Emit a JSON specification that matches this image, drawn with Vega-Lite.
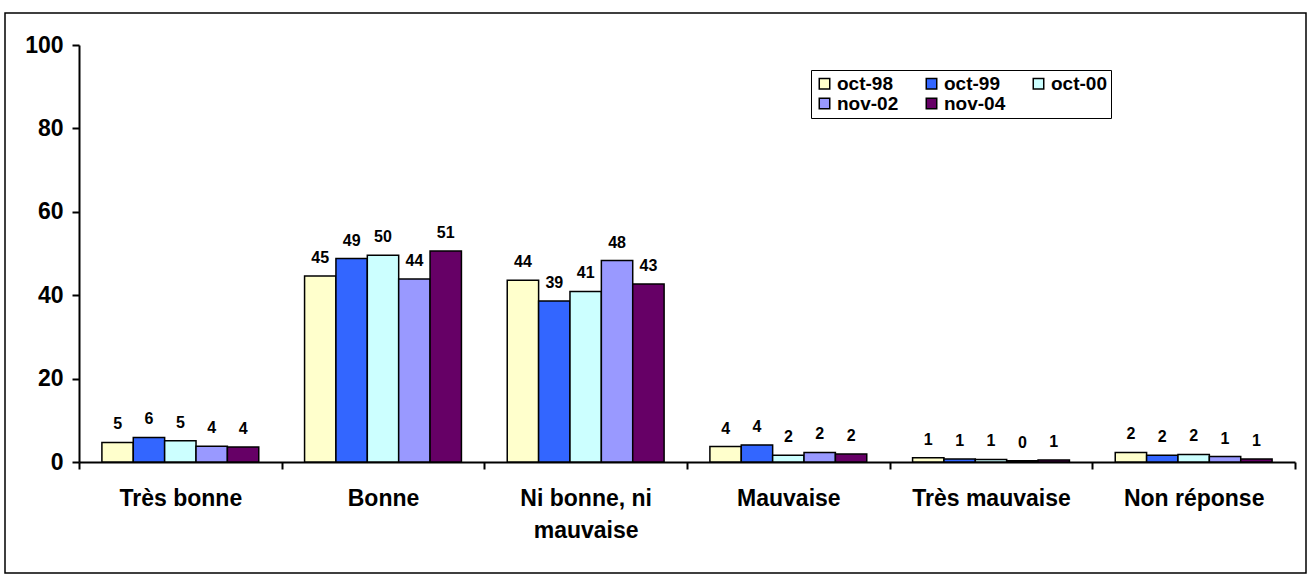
{
  "$schema": "https://vega.github.io/schema/vega-lite/v6.json",
  "width": 1301,
  "height": 560,
  "autosize": {"type": "none"},
  "padding": {"left": 5, "top": 13, "right": 2, "bottom": 1},
  "background": "white",
  "config": {
    "view": {"stroke": "black", "strokeWidth": 1.5},
    "font": "Liberation Sans"
  },
  "data": {
    "values": [
      {"cat": "Très bonne", "period": "oct-98", "value": 4.7, "label": "5"},
      {"cat": "Très bonne", "period": "oct-99", "value": 5.9, "label": "6"},
      {"cat": "Très bonne", "period": "oct-00", "value": 5.1, "label": "5"},
      {"cat": "Très bonne", "period": "nov-02", "value": 3.8, "label": "4"},
      {"cat": "Très bonne", "period": "nov-04", "value": 3.6, "label": "4"},
      {"cat": "Bonne", "period": "oct-98", "value": 44.6, "label": "45"},
      {"cat": "Bonne", "period": "oct-99", "value": 48.8, "label": "49"},
      {"cat": "Bonne", "period": "oct-00", "value": 49.6, "label": "50"},
      {"cat": "Bonne", "period": "nov-02", "value": 43.9, "label": "44"},
      {"cat": "Bonne", "period": "nov-04", "value": 50.6, "label": "51"},
      {"cat": "Ni bonne, ni mauvaise", "period": "oct-98", "value": 43.6, "label": "44"},
      {"cat": "Ni bonne, ni mauvaise", "period": "oct-99", "value": 38.6, "label": "39"},
      {"cat": "Ni bonne, ni mauvaise", "period": "oct-00", "value": 40.9, "label": "41"},
      {"cat": "Ni bonne, ni mauvaise", "period": "nov-02", "value": 48.3, "label": "48"},
      {"cat": "Ni bonne, ni mauvaise", "period": "nov-04", "value": 42.7, "label": "43"},
      {"cat": "Mauvaise", "period": "oct-98", "value": 3.7, "label": "4"},
      {"cat": "Mauvaise", "period": "oct-99", "value": 4.1, "label": "4"},
      {"cat": "Mauvaise", "period": "oct-00", "value": 1.6, "label": "2"},
      {"cat": "Mauvaise", "period": "nov-02", "value": 2.3, "label": "2"},
      {"cat": "Mauvaise", "period": "nov-04", "value": 1.9, "label": "2"},
      {"cat": "Très mauvaise", "period": "oct-98", "value": 1.0, "label": "1"},
      {"cat": "Très mauvaise", "period": "oct-99", "value": 0.7, "label": "1"},
      {"cat": "Très mauvaise", "period": "oct-00", "value": 0.6, "label": "1"},
      {"cat": "Très mauvaise", "period": "nov-02", "value": 0.3, "label": "0"},
      {"cat": "Très mauvaise", "period": "nov-04", "value": 0.5, "label": "1"},
      {"cat": "Non réponse", "period": "oct-98", "value": 2.3, "label": "2"},
      {"cat": "Non réponse", "period": "oct-99", "value": 1.6, "label": "2"},
      {"cat": "Non réponse", "period": "oct-00", "value": 1.8, "label": "2"},
      {"cat": "Non réponse", "period": "nov-02", "value": 1.3, "label": "1"},
      {"cat": "Non réponse", "period": "nov-04", "value": 0.7, "label": "1"}
    ]
  },
  "encoding": {
    "x": {
      "field": "cat",
      "type": "nominal",
      "sort": ["Très bonne", "Bonne", "Ni bonne, ni mauvaise", "Mauvaise", "Très mauvaise", "Non réponse"],
      "scale": {"range": [74, 1290], "paddingInner": 0, "paddingOuter": 0},
      "axis": {
        "title": null,
        "offset": -111,
        "tickBand": "extent",
        "tickSize": 7,
        "tickWidth": 2,
        "tickColor": "black",
        "domainColor": "black",
        "domainWidth": 2,
        "labelAngle": 0,
        "labelFont": "Liberation Sans",
        "labelFontSize": 23,
        "labelFontWeight": "bold",
        "labelColor": "black",
        "labelPadding": 18,
        "labelLineHeight": 32,
        "labelBaseline": "top",
        "labelExpr": "datum.value == 'Ni bonne, ni mauvaise' ? ['Ni bonne, ni', 'mauvaise'] : datum.label"
      }
    },
    "xOffset": {
      "field": "period",
      "type": "nominal",
      "sort": ["oct-98", "oct-99", "oct-00", "nov-02", "nov-04"],
      "scale": {"paddingOuter": 0.73, "paddingInner": 0}
    },
    "y": {
      "field": "value",
      "type": "quantitative",
      "scale": {"domain": [0, 100], "range": [449, 32], "nice": false},
      "axis": {
        "title": null,
        "values": [0, 20, 40, 60, 80, 100],
        "offset": -74,
        "grid": false,
        "tickSize": 7,
        "tickWidth": 2,
        "tickColor": "black",
        "domainColor": "black",
        "domainWidth": 2,
        "labelFont": "Liberation Sans",
        "labelFontSize": 23,
        "labelFontWeight": "bold",
        "labelColor": "black",
        "labelPadding": 9
      }
    }
  },
  "layer": [
    {
      "mark": {"type": "bar", "stroke": "black", "strokeWidth": 1.5},
      "encoding": {
        "color": {
          "field": "period",
          "type": "nominal",
          "sort": ["oct-98", "oct-99", "oct-00", "nov-02", "nov-04"],
          "scale": {
            "domain": ["oct-98", "oct-99", "oct-00", "nov-02", "nov-04"],
            "range": ["#FFFFCC", "#3366FF", "#CCFFFF", "#9999FF", "#660066"]
          },
          "legend": {
            "orient": "none",
            "legendX": 806,
            "legendY": 57,
            "columns": 3,
            "direction": "horizontal",
            "title": null,
            "strokeColor": "black",
            "fillColor": "white",
            "padding": 4,
            "symbolType": "square",
            "symbolSize": 110,
            "symbolStrokeColor": "black",
            "symbolStrokeWidth": 1.5,
            "symbolOpacity": 1,
            "labelFont": "Liberation Sans",
            "labelFontSize": 19,
            "labelFontWeight": "bold",
            "labelColor": "black",
            "labelOffset": 3,
            "columnPadding": 23,
            "rowPadding": 0
          }
        }
      }
    },
    {
      "mark": {"type": "text", "fontSize": 16, "fontWeight": "bold", "font": "Liberation Sans", "color": "black", "baseline": "alphabetic", "dy": -13},
      "encoding": {
        "text": {"field": "label", "type": "nominal"}
      }
    }
  ]
}
